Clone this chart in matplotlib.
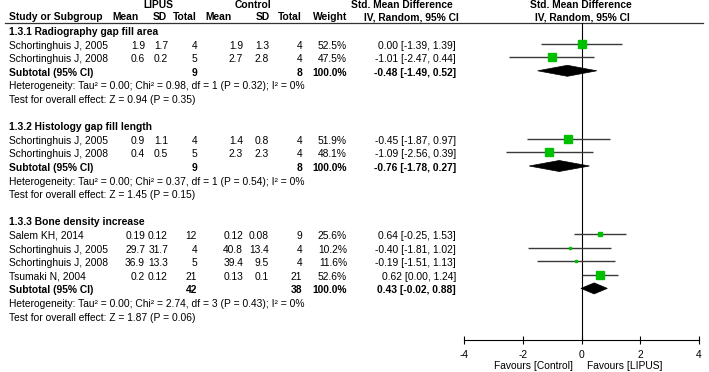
import matplotlib
matplotlib.use("Agg")
import matplotlib.pyplot as plt
from matplotlib.patches import Polygon
from matplotlib.transforms import blended_transform_factory

plt.rcParams["font.family"] = ["Liberation Sans", "DejaVu Sans"]
plt.rcParams["axes.unicode_minus"] = False

# ── data ─────────────────────────────────────────────────────
groups = ["1.3.1 Radiography gap fill area",
          "1.3.2 Histology gap fill length",
          "1.3.3 Bone density increase"]
studies = [["Schortinghuis J, 2005", "Schortinghuis J, 2008"],
           ["Schortinghuis J, 2005", "Schortinghuis J, 2008"],
           ["Salem KH, 2014", "Schortinghuis J, 2005",
            "Schortinghuis J, 2008", "Tsumaki N, 2004"]]
lipus_mean = [[1.9, 0.6], [0.9, 0.4], [0.19, 29.7, 36.9, 0.2]]
lipus_sd = [[1.7, 0.2], [1.1, 0.5], [0.12, 31.7, 13.3, 0.12]]
lipus_n = [[4, 5], [4, 5], [12, 4, 5, 21]]
ctrl_mean = [[1.9, 2.7], [1.4, 2.3], [0.12, 40.8, 39.4, 0.13]]
ctrl_sd = [[1.3, 2.8], [0.8, 2.3], [0.08, 13.4, 9.5, 0.1]]
ctrl_n = [[4, 4], [4, 4], [9, 4, 4, 21]]
weight = [[52.5, 47.5], [51.9, 48.1], [25.6, 10.2, 11.6, 52.6]]
smd = [[0.00, -1.01], [-0.45, -1.09], [0.64, -0.40, -0.19, 0.62]]
smd_lo = [[-1.39, -2.47], [-1.87, -2.56], [-0.25, -1.81, -1.51, 0.00]]
smd_hi = [[1.39, 0.44], [0.97, 0.39], [1.53, 1.02, 1.13, 1.24]]

sub_lipus_n = [9, 9, 42]
sub_ctrl_n = [8, 8, 38]
sub_smd = [-0.48, -0.76, 0.43]
sub_lo = [-1.49, -1.78, -0.02]
sub_hi = [0.52, 0.27, 0.88]
tau2 = [0.00, 0.00, 0.00]
chi2 = [0.98, 0.37, 2.74]
het_df = [1, 1, 3]
het_p = [0.32, 0.54, 0.43]
i2 = [0, 0, 0]
z_val = [0.94, 1.45, 1.87]
z_p = [0.35, 0.15, 0.06]

xticks = [-4, -2, 0, 2, 4]

# ── layout (pixel coordinates of a 709x372 canvas) ──────────
FS = 7.4
GREEN = "#00c000"
ROW0, ROWH = 30.0, 13.6
TOP_RULE, AXIS_Y = 22.5, 340.0
PLOT_L, PLOT_R = 464, 699
X_NAME, X_LM, X_LSD, X_LN = 9, 145, 168, 197
X_CM, X_CSD, X_CN, X_W, X_CI = 243, 269, 302, 347, 456


def row_y(k):
    return ROW0 + ROWH * k


fig = plt.figure(figsize=(7.09, 3.72), dpi=100)
tab = fig.add_axes([0, 0, 1, 1])
tab.set_xlim(0, 709)
tab.set_ylim(372, 0)
tab.axis("off")

forest = fig.add_axes([PLOT_L / 709, (372 - AXIS_Y) / 372,
                       (PLOT_R - PLOT_L) / 709, (AXIS_Y - TOP_RULE) / 372])
forest.set_xlim(-4, 4)
forest.set_ylim(AXIS_Y, TOP_RULE)
forest.patch.set_alpha(0)
for s in ("top", "right", "left"):
    forest.spines[s].set_visible(False)
forest.spines["bottom"].set_linewidth(0.8)
forest.set_yticks([])
forest.set_xticks(xticks)
forest.set_xticklabels([str(t) for t in xticks])
forest.tick_params(axis="x", direction="inout", length=6, width=0.8,
                   labelsize=FS, pad=4)
forest.axvline(0, color="black", lw=0.8, zorder=1)


def txt(x, y, s, ha="left", bold=False, **kw):
    tab.text(x, y + 5, s, ha=ha, va="baseline", fontsize=FS,
             fontweight="bold" if bold else "normal", **kw)


# header
tab.axhline(TOP_RULE, xmin=5 / 709, xmax=703 / 709, color="#333333", lw=0.9)
for x, s in [(158, "LIPUS"), (253, "Control"), (402, "Std. Mean Difference"),
             (581, "Std. Mean Difference")]:
    tab.text(x, 8.5, s, ha="center", va="baseline", fontsize=FS, fontweight="bold")
tab.text(X_NAME, 20.5, "Study or Subgroup", ha="left", va="baseline",
         fontsize=FS, fontweight="bold")
for x, s in [(139, "Mean"), (167, "SD"), (197, "Total"), (232, "Mean"),
             (270, "SD"), (302, "Total"), (347, "Weight")]:
    tab.text(x, 20.5, s, ha="right", va="baseline", fontsize=FS, fontweight="bold")
for x, s in [(411, "IV, Random, 95% CI"), (582, "IV, Random, 95% CI")]:
    tab.text(x, 20.5, s, ha="center", va="baseline", fontsize=FS, fontweight="bold")

k = 0
for g in range(len(groups)):
    txt(X_NAME, row_y(k), groups[g], bold=True)
    k += 1
    for i, name in enumerate(studies[g]):
        y = row_y(k)
        txt(X_NAME, y, name)
        txt(X_LM, y, str(lipus_mean[g][i]), ha="right")
        txt(X_LSD, y, str(lipus_sd[g][i]), ha="right")
        txt(X_LN, y, str(lipus_n[g][i]), ha="right")
        txt(X_CM, y, str(ctrl_mean[g][i]), ha="right")
        txt(X_CSD, y, str(ctrl_sd[g][i]), ha="right")
        txt(X_CN, y, str(ctrl_n[g][i]), ha="right")
        txt(X_W, y, f"{weight[g][i]:.1f}%", ha="right")
        txt(X_CI, y, f"{smd[g][i]:.2f} [{smd_lo[g][i]:.2f}, {smd_hi[g][i]:.2f}]",
            ha="right")
        forest.plot([smd_lo[g][i], smd_hi[g][i]], [y, y], color="#3a3a3a",
                    lw=1.0, zorder=2, solid_capstyle="butt")
        side_px = max(weight[g][i] * 0.17, 2.2)
        forest.plot(smd[g][i], y, marker="s", color=GREEN, mec=GREEN,
                    ms=side_px * 0.72, zorder=3)
        k += 1
    y = row_y(k)
    txt(X_NAME, y, "Subtotal (95% CI)", bold=True)
    txt(X_LN, y, str(sub_lipus_n[g]), ha="right", bold=True)
    txt(X_CN, y, str(sub_ctrl_n[g]), ha="right", bold=True)
    txt(X_W, y, "100.0%", ha="right", bold=True)
    txt(X_CI, y, f"{sub_smd[g]:.2f} [{sub_lo[g]:.2f}, {sub_hi[g]:.2f}]",
        ha="right", bold=True)
    h = 5.5
    forest.add_patch(Polygon([(sub_lo[g], y), (sub_smd[g], y - h),
                              (sub_hi[g], y), (sub_smd[g], y + h)],
                             closed=True, fc="black", ec="black", lw=0.5, zorder=3))
    k += 1
    txt(X_NAME, row_y(k),
        f"Heterogeneity: Tau\u00b2 = {tau2[g]:.2f}; Chi\u00b2 = {chi2[g]:.2f}, "
        f"df = {het_df[g]} (P = {het_p[g]:.2f}); I\u00b2 = {i2[g]}%")
    k += 1
    txt(X_NAME, row_y(k), f"Test for overall effect: Z = {z_val[g]:.2f} (P = {z_p[g]:.2f})")
    k += 2

trans = blended_transform_factory(forest.transData, forest.transAxes)
forest.text(-0.3, -0.081, "Favours [Control]", ha="right", va="center",
            fontsize=FS, transform=trans)
forest.text(0.2, -0.081, "Favours [LIPUS]", ha="left", va="center",
            fontsize=FS, transform=trans)

fig.savefig("out.png", dpi=100)
